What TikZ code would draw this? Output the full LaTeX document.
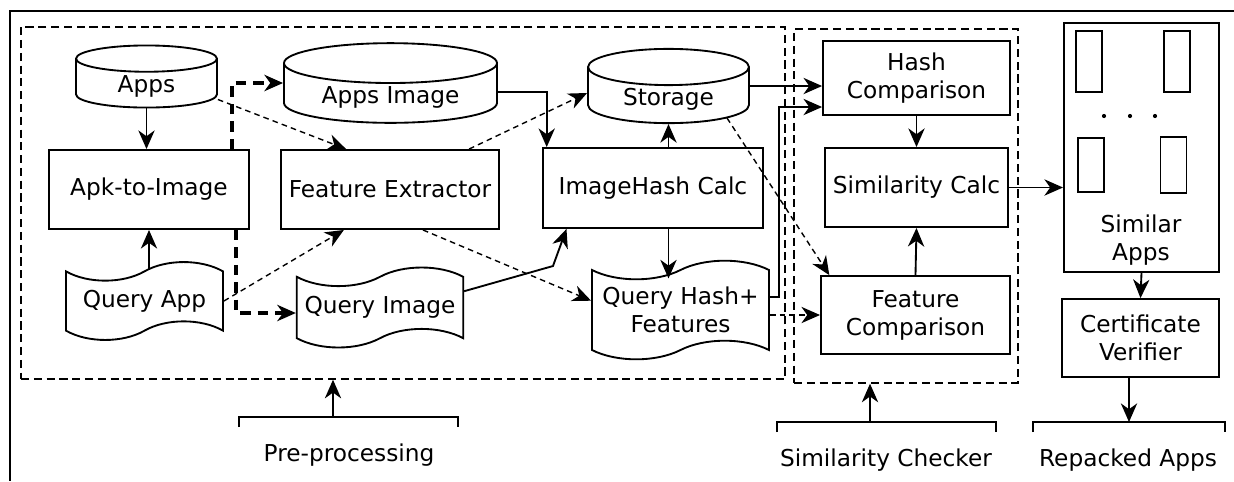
\documentclass[tikz,border=0pt]{standalone}
\usepackage{fontspec}
\setmainfont{DejaVu Sans}
\usetikzlibrary{shapes.geometric,shapes.symbols,arrows.meta,calc}
\begin{document}
\begin{tikzpicture}[x=4.3pt,y=-4.3pt]
    % Node styles
    \tikzstyle{none}=[inner sep=0mm]
    \tikzstyle{box}=[fill=white, draw=black, line width=0.8pt, shape=rectangle, align=center]
    \tikzstyle{small box}=[draw=black, line width=0.7pt, shape=rectangle, inner sep=0mm, minimum width=11.2pt]
    \tikzstyle{db}=[fill=white, draw=black, line width=0.8pt, shape=cylinder, shape border rotate=90, inner ysep=1pt, anchor=shape center]
    \tikzstyle{doc}=[fill=white, draw=black, line width=0.8pt, shape=tape, tape bend height=8pt, align=center]
    \tikzstyle{group box}=[draw=black, line width=0.6pt, dash pattern=on 3.5pt off 2pt, shape=rectangle]
    % Edge styles
    \tikzstyle{arrow}=[line width=0.8pt, -{Stealth[length=8pt, width=7pt, inset=2.5pt]}]
    \tikzstyle{dash arrow}=[line width=0.6pt, dash pattern=on 2.4pt off 1.8pt, -{Stealth[length=8pt, width=7pt, inset=2.5pt]}]
    \tikzstyle{bold dash arrow}=[line width=1.3pt, dash pattern=on 4.5pt off 3pt, -{Stealth[length=8pt, width=7pt, inset=2.5pt]}]
    \tikzstyle{bracket}=[line width=0.8pt]

    \useasboundingbox (0, 0) rectangle (123.4, 48.1);
    \draw [line width=0.8pt] (123.4, 1.1) -- (1.0, 1.1) -- (1.0, 48.1);

    \node [style=group box, minimum width=328.5pt, minimum height=151.4pt] (14) at (40.3, 20.3) {};
    \node [style=group box, minimum width=96.3pt, minimum height=152.2pt] (15) at (90.6, 20.6) {};

    \node [style=db, aspect=0.36, minimum width=60.6pt, minimum height=26.7pt] (0) at (14.65, 7.65) {Apps};
    \node [style=db, aspect=0.26, minimum width=91.6pt, minimum height=30.1pt] (1) at (39.05, 8.3) {Apps Image};
    \node [style=db, aspect=0.34, minimum width=69.2pt, minimum height=31pt] (2) at (66.85, 8.6) {Storage};
    \node [style=box, minimum width=86pt, minimum height=34pt] (3) at (14.9, 18.95) {Apk-to-Image};
    \node [style=box, minimum width=92.9pt, minimum height=34pt] (4) at (39.0, 18.95) {Feature Extractor};
    \node [style=box, minimum width=94.6pt, minimum height=34.4pt] (5) at (65.3, 18.8) {ImageHash Calc};
    \node [style=doc, minimum width=67.5pt, minimum height=33.5pt] (6) at (14.45, 30.1) {Query App};
    \node [style=doc, minimum width=68.8pt, minimum height=34.4pt] (7) at (38.0, 30.75) {Query Image};
    \node [style=doc, minimum width=76.1pt, minimum height=37pt] (8) at (68.05, 31.0) {Query Hash+\\Features};
    \node [style=box, minimum width=80.4pt, minimum height=31.8pt] (9) at (91.65, 7.8) {Hash\\Comparison};
    \node [style=box, minimum width=78.7pt, minimum height=34pt] (10) at (91.65, 18.75) {Similarity Calc};
    \node [style=box, minimum width=81.3pt, minimum height=33.5pt] (11) at (91.55, 31.5) {Feature\\Comparison};
    \node [style=box, minimum width=66.7pt, minimum height=107pt] (12) at (114.15, 14.75) {};
    \node [style=box, minimum width=67.5pt, minimum height=33.5pt] (13) at (114.05, 33.8) {Certificate\\Verifier};

    \node [style=small box, minimum height=26.2pt] (20) at (108.9, 6.15) {};
    \node [style=small box, minimum height=26.2pt] (21) at (117.7, 6.15) {};
    \node [style=small box, minimum height=23.2pt] (22) at (109.1, 16.5) {};
    \node [style=small box, minimum height=24pt] (23) at (117.35, 16.5) {};
    \node [style=none, align=center] (19) at (114.1, 24.0) {Similar\\Apps};
    \foreach \x in {110.4, 113.0, 115.5}
        \fill (\x, 11.6) circle (0.9pt);

    \node [style=none] (16) at (34.9, 45.5) {Pre-processing};
    \node [style=none] (17) at (88.6, 46.0) {Similarity Checker};
    \node [style=none] (18) at (112.8, 46.0) {Repacked Apps};

    \node [style=none] (24) at (23.9, 42.7) {};
    \node [style=none] (25) at (23.9, 41.7) {};
    \node [style=none] (26) at (45.8, 41.7) {};
    \node [style=none] (27) at (45.8, 42.7) {};
    \node [style=none] (28) at (33.3, 41.7) {};
    \node [style=none] (29) at (77.7, 43.2) {};
    \node [style=none] (30) at (77.7, 42.2) {};
    \node [style=none] (31) at (99.6, 42.2) {};
    \node [style=none] (32) at (99.6, 43.2) {};
    \node [style=none] (33) at (87.0, 42.2) {};
    \node [style=none] (34) at (103.3, 43.2) {};
    \node [style=none] (35) at (103.3, 42.2) {};
    \node [style=none] (36) at (122.5, 42.2) {};
    \node [style=none] (37) at (122.5, 43.2) {};
    \node [style=none] (38) at (112.9, 42.2) {};
    \node [style=none] (39) at (23.2, 8.3) {};
    \node [style=none] (40) at (23.6, 31.3) {};
    \node [style=none] (41) at (55.3, 26.6) {};
    \node [style=none] (42) at (77.9, 10.7) {};

    \draw [style=arrow] (0.south) to (0.south |- 3.north);
    \draw [style=arrow] (3.south |- 6.north) to (3.south);
    \draw [style=bold dash arrow] (3.north -| 39.center) to (39.center) to (39.center -| 1.west);
    \draw [style=bold dash arrow] (3.south -| 40.center) to (40.center) to (40.center -| 7.west);
    \draw [style=dash arrow] ($(0.east |- 0.shape center)+(0, 2.3)$) to ($(4.north west)!0.3!(4.north east)$);
    \draw [style=dash arrow] (6.east) to ($(4.south west)!0.29!(4.south east)$);
    \draw [style=dash arrow] ($(4.north west)!0.86!(4.north east)$) to ($(2.west |- 2.shape center)+(0, 0.7)$);
    \draw [style=dash arrow] ($(4.south west)!0.65!(4.south east)$) to ([yshift=4pt]8.west);
    \draw [style=dash arrow] ($(2.shape center)+(5.85, 3.2)$) to ([xshift=4pt]11.north west);
    \draw [style=dash arrow] (8.east |- 11.west) to (11.west);
    \draw [style=arrow] ($(1.east |- 1.shape center)+(0, 0.9)$) -| ([xshift=2pt]5.north west);
    \draw [style=arrow] (2.south |- 5.north) to (2.south);
    \draw [style=arrow] ([yshift=7pt]7.east) to (41.center) to ([xshift=10.5pt]5.south west);
    \draw [style=arrow] (5.south -| 2.south) to ([yshift=-4pt]8.north -| 2.south);
    \draw [style=arrow] (2.east |- 2.shape center) to (2.shape center -| 9.west);
    \draw [style=arrow] ([yshift=5.5pt]8.east) -| (42.center) to (42.center -| 9.west);
    \draw [style=arrow] (9.south) to (10.north);
    \draw [style=arrow] (11.north) to (10.south);
    \draw [style=arrow] (10.east) to (10.east -| 12.west);
    \draw [style=arrow] (12.south) to (13.north);
    \draw [style=arrow] (13.south -| 38.center) to (38.center);
    \draw [style=arrow] (28.center) to (28.center |- 14.south);
    \draw [style=arrow] (33.center) to (33.center |- 15.south);

    \draw [style=bracket] (24.center) to (25.center) to (26.center) to (27.center);
    \draw [style=bracket] (29.center) to (30.center) to (31.center) to (32.center);
    \draw [style=bracket] (34.center) to (35.center) to (36.center) to (37.center);
\end{tikzpicture}
\end{document}
